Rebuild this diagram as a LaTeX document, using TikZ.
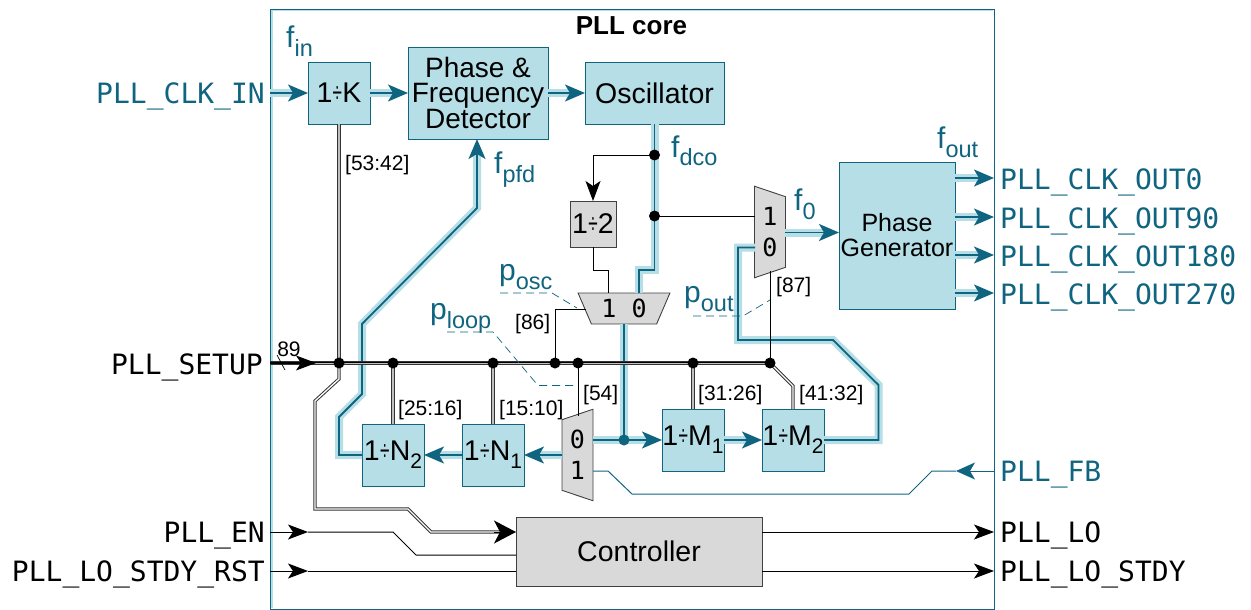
\documentclass[tikz,border=0pt]{standalone}
\usepackage{fontspec}
\setmainfont{Liberation Sans}
\newfontfamily\pinfont{DejaVu Sans Mono}
\usetikzlibrary{positioning,arrows.meta,shapes.geometric}
\definecolor{Petrol}{HTML}{0F6480}
\definecolor{PaleSky}{HTML}{B5DEE7}
\definecolor{Steel}{HTML}{D9D9D9}
\newcommand{\dvd}{\kern.01em\scalebox{.6}[1]{÷}\kern.01em}
\newcommand{\lowr}[1]{\raisebox{-8pt}{\fontsize{21}{21}\selectfont #1}}
\newcommand{\lowp}[1]{\raisebox{-9pt}{\fontsize{23.5}{24}\selectfont #1}}
\begin{document}
\begin{tikzpicture}[x=1pt,y=-1pt,
        block/.style={draw=Petrol,fill=PaleSky,line width=.9pt,outer sep=0pt,inner sep=0pt,align=center,
                      font=\fontsize{28.5}{25}\selectfont},
        small/.style={block,minimum width=62pt,minimum height=62pt},
        grey/.style={block,draw=black!75,fill=Steel},
        mux/.style={trapezium,trapezium stretches=true,trapezium left angle=64,trapezium right angle=64,
                    draw=black!75,fill=Steel,line width=.9pt,outer sep=0pt,inner sep=0pt,align=center,
                    font=\pinfont\fontsize{25}{31}\selectfont},
        pinin/.style={font=\pinfont\fontsize{28}{28}\selectfont,inner sep=0pt,text height=20pt,text depth=0pt},
        sig/.style={Petrol,font=\fontsize{30}{30}\selectfont,inner sep=0pt,anchor=base west},
        tag/.style={font=\fontsize{21}{21}\selectfont,inner sep=0pt,anchor=west},
        dot/.style={circle,fill=black,inner sep=0pt,minimum size=11pt},
        clk/.style={Petrol,line width=1.8pt,line join=miter,preaction={draw,PaleSky,line width=8pt,-}},
        clkarr/.style={Petrol,line width=1.8pt,-{Stealth[length=20pt,width=17pt,inset=5pt]},
                       preaction={draw,PaleSky,line width=8pt,-,shorten >=12pt}},
        wire/.style={black,line width=1pt},
        arr/.style={wire,-{Stealth[length=20pt,width=15pt,inset=5pt]}},
        bigarr/.style={wire,-{Stealth[length=22pt,width=23pt,inset=6pt]}},
        bus/.style={draw=black!80,double=black!25,double distance=1.3pt,line width=1pt},
        hollow/.style={bus,double=white},
        fbk/.style={Petrol,line width=1pt},
        call/.style={Petrol,line width=.7pt,dash pattern=on 8pt off 5pt}
      ]
        \useasboundingbox (0,0) rectangle (1251,610);
        % frame
        \draw[PaleSky,line width=2pt] (271.5,608) -- (271.5,10.5) -- (993,10.5);
        \node[draw=Petrol,line width=.9pt,minimum width=724pt,minimum height=600pt,outer sep=0pt] (core) at (632,309) {};
        \node[font=\bfseries\fontsize{26}{26}\selectfont,inner sep=0pt] (title) at (631.5,26) {PLL core};
        % blocks
        \node[small] (divk) at (339,93) {1\dvd K};
        \node[block,right=38pt of divk,minimum width=140pt,minimum height=92pt,font=\fontsize{28}{25}\selectfont] (pfd) {Phase \&\\Frequency\\Detector};
        \node[block,right=37pt of pfd,minimum width=139pt,minimum height=62pt] (osc) {Oscillator};
        \node[block,minimum width=116pt,minimum height=147pt,font=\fontsize{25}{25}\selectfont] (phgen) at (897,235.5) {Phase\\Generator};
        \node[grey,minimum width=46pt,minimum height=46pt] (div2) at (593,224) {1\dvd 2};
        \node[small] (divn2) at (393,455) {1\dvd N\lowr{2}};
        \node[small,right=38pt of divn2] (divn1) {1\dvd N\lowr{1}};
        \node[small] (divm1) at (693,440) {1\dvd M\lowr{1}};
        \node[small,right=38pt of divm1] (divm2) {1\dvd M\lowr{2}};
        \node[grey,minimum width=246pt,minimum height=69pt] (ctrl) at (639,551.5) {Controller};
        % muxes
        \node[mux,shape border rotate=180,minimum width=92pt,minimum height=31pt] (muxosc) at (624,308.5) {1 0};
        \node[mux,shape border rotate=270,minimum width=92pt,minimum height=31pt] (muxout) at (770,232) {1\\0};
        \node[mux,shape border rotate=90,minimum width=92pt,minimum height=31pt] (muxfb) at (577.5,455) {0\\1};
        % pins
        \node[pinin,Petrol,anchor=east] (clkin) at (265,93) {PLL\_CLK\_IN};
        \node[pinin,anchor=east] (setup) at (263,364) {PLL\_SETUP};
        \node[pinin,anchor=east] (en) at (265,532) {PLL\_EN};
        \node[pinin,anchor=east] (rst) at (265,571) {PLL\_LO\_STDY\_RST};
        \node[pinin,Petrol,anchor=west] (out0) at (1000,179) {PLL\_CLK\_OUT0};
        \node[pinin,Petrol,anchor=west] (out90) at (1000,218) {PLL\_CLK\_OUT90};
        \node[pinin,Petrol,anchor=west] (out180) at (1000,256) {PLL\_CLK\_OUT180};
        \node[pinin,Petrol,anchor=west] (out270) at (1000,294) {PLL\_CLK\_OUT270};
        \node[pinin,Petrol,anchor=west] (fb) at (1000,471) {PLL\_FB};
        \node[pinin,anchor=west] (lo) at (1000,532) {PLL\_LO};
        \node[pinin,anchor=west] (lostdy) at (1000,571) {PLL\_LO\_STDY};
        % joints
        \coordinate (jdiv) at (654.5,155);
        \coordinate (jmux) at (654.5,216);
        \coordinate (jfb) at (624,440);
        \coordinate (jk) at (339,363);
        \coordinate (jn2) at (393,363);
        \coordinate (jn1) at (493,363);
        \coordinate (jsel) at (555,363);
        \coordinate (jfbs) at (578,363);
        \coordinate (jm1) at (693,363);
        \coordinate (jm2) at (770,363);
        % clock paths
        \draw[clkarr] (core.west |- divk) -- (divk);
        \draw[clkarr] (divk) -- (pfd);
        \draw[clkarr] (pfd) -- (osc);
        \draw[clk] (osc.south -| jdiv) -- (654.5,270) -- (639,270) -- (639,293);
        \draw[clk] (624,324) -- (jfb);
        \draw[clk] (593,440) -- (jfb);
        \draw[clkarr] (jfb) -- (divm1);
        \draw[clkarr] (divm1) -- (divm2);
        \draw[clk] (divm2) -- (878.5,440) -- (878.5,385) -- (833,340) -- (738,340) -- (738,247.5) -- (755,247.5);
        \draw[clkarr] (785,232.5) -- (phgen.west |- 0,232.5);
        \draw[clkarr] (562,455) -- (divn1);
        \draw[clkarr] (divn1) -- (divn2);
        \draw[clk] (divn2.west) -- (339,455) -- (339,417) -- (362,394) -- (362,324) -- (477,208) -- (477,150);
        \draw[clkarr] (477,155) -- (pfd.south -| 477,0);
        \foreach \n in {out0,out90,out180,out270}
          \draw[clkarr] ([yshift=1pt]phgen.east |- \n) -- ([yshift=1pt]core.east |- \n);
        % control wires
        \draw[wire] (jdiv) -- (593,155);
        \draw[arr] (593,155) -- (div2);
        \draw[wire] (jmux) -- (755,216);
        \draw[wire] (div2) -- (593,270) -- (608,270) -- (608,293);
        \draw[wire] (jsel) -- (555,309) -- (586,309);
        \draw[wire] (jfbs) -- (578,416);
        \draw[wire] (jm2) -- (770,270.5);
        \draw[fbk,-{Stealth[length=19pt,width=17pt,inset=5pt]}] (core.east |- fb) -- (956,471);
        \draw[fbk] (956,471) -- (932,471) -- (909,494) -- (632,494) -- (608,471) -- (593,471);
        % buses
        \draw[bus] (core.west |- jk) -- (jm2);
        \draw[wire] ([yshift=1pt]core.west |- jk) -- ([yshift=1pt]jm2);
        \draw[bus] (divk) -- (jk);
        \draw[hollow] (jk) -- (339,379) -- (315,401) -- (315,509) -- (408,509) -- (431,532) -- (500,532);
        \draw[bus] (jn2) -- (divn2);
        \draw[bus] (jn1) -- (divn1);
        \draw[bus] (jm1) -- (divm1);
        \draw[hollow] (jm2) -- (793,386) -- (divm2);
        \draw[bigarr] (494,532) -- (ctrl.west |- 0,532);
        \draw[arr] (core.west |- jk) -- (316,363);
        \draw[wire,line width=.7pt] (277,355) -- (285,370);
        \node[font=\fontsize{21}{21}\selectfont,inner sep=0pt] (width) at (289,349) {89};
        % inputs and outputs
        \draw[arr] (core.west |- en) -- (308,532);
        \draw[wire] (308,532) -- (393,532) -- (416,555) -- (ctrl.west |- 0,555);
        \draw[arr] (core.west |- rst) -- (308,571);
        \draw[wire] (308,571) -- (ctrl.west |- 0,571);
        \draw[arr] (ctrl.east |- 0,532) -- (core.east |- 0,532);
        \draw[arr] (ctrl.east |- 0,571) -- (core.east |- 0,571);
        % callouts
        \draw[call] (500,293) -- (552,293) -- (577,308);
        \draw[call] (447,332) -- (493,332) -- (538,385.5) -- (578,385.5);
        \draw[call] (693,316) -- (743,316) -- (770,300);
        % labels
        \node[sig] (fin) at (286,48) {f\lowp{in}};
        \node[sig] (fpfd) at (494,173) {f\lowp{pfd}};
        \node[sig] (fdco) at (671,157) {f\lowp{dco}};
        \node[sig] (fzero) at (794,210) {f\lowp{0}};
        \node[sig] (fout) at (937,148) {f\lowp{out}};
        \node[sig] (posc) at (499,280) {p\lowp{osc}};
        \node[sig] (ploop) at (430,319) {p\lowp{loop}};
        \node[sig] (pout) at (684,302) {p\lowp{out}};
        \node[tag] (bk) at (345,165) {[53:42]};
        \node[tag] (bsel) at (515,324) {[86]};
        \node[tag] (bout) at (776,287) {[87]};
        \node[tag] (bn2) at (398,410) {[25:16]};
        \node[tag] (bn1) at (499,410) {[15:10]};
        \node[tag] (bfb) at (583,395) {[54]};
        \node[tag] (bm1) at (698,395) {[31:26]};
        \node[tag] (bm2) at (799,395) {[41:32]};
        % dots
        \foreach \j in {jdiv,jmux,jk,jn2,jn1,jsel,jfbs,jm1,jm2}
          \node[dot] (d\j) at (\j) {};
        \node[dot,fill=Petrol] (djfb) at (jfb) {};
      \end{tikzpicture}
\end{document}
